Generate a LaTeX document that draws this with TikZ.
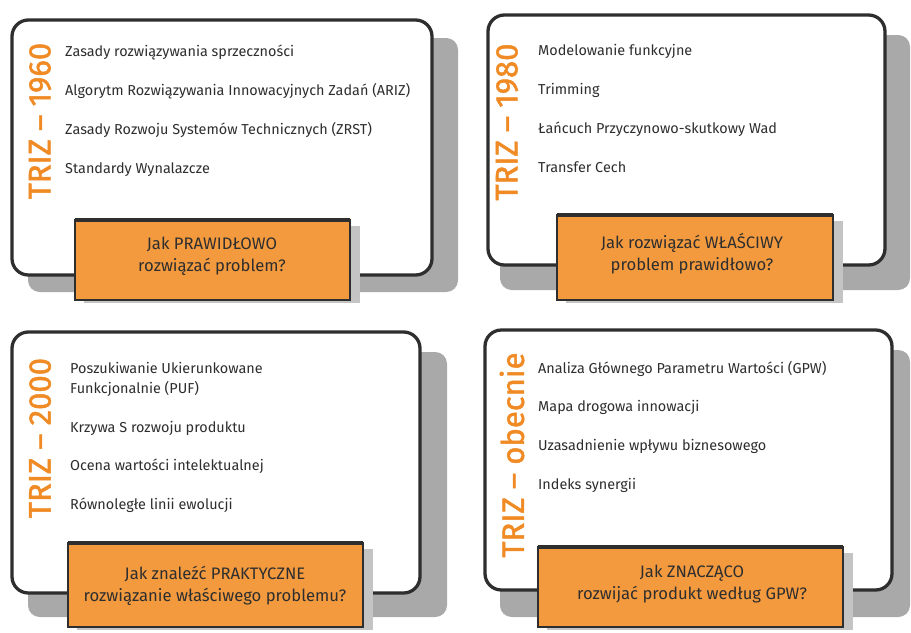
\documentclass[tikz,border=0pt]{standalone}
\usepackage{fontspec}
\setmainfont{Fira Sans}
\newfontfamily\erafont[FakeBold=1.6]{Fira Sans}
\definecolor{trizorange}{HTML}{F39A3F}
\definecolor{eraorange}{HTML}{F08A24}
\definecolor{inkgray}{HTML}{2E2E2E}
\definecolor{shadowgray}{HTML}{A9A9A9}
\definecolor{shadowlight}{HTML}{C4C4C4}

\tikzset{
  card/.style={draw=inkgray, line width=2.8pt, fill=white, rounded corners=14pt},
  cardshadow/.style={fill=shadowgray, rounded corners=10pt},
  era/.style={rotate=90, text=eraorange, font=\erafont\fontsize{26.5}{30}\selectfont},
  item/.style={anchor=base west, text=inkgray, inner sep=0pt, font=\fontsize{12.3}{14}\selectfont},
  question/.style={draw=inkgray, line width=1.3pt, fill=trizorange},
  qtop/.style={draw=inkgray, line width=2.6pt},
  qtext/.style={align=center, text=inkgray, font=\fontsize{14.2}{18.5}\selectfont}
}

\begin{document}
\begin{tikzpicture}[x=0.03cm, y=-0.03cm]
  \useasboundingbox (0,0) rectangle (911,632);

  % shadows
  \fill[cardshadow] (28,38) rectangle (458,292);
  \fill[cardshadow] (500,35) rectangle (910,290);
  \fill[cardshadow] (28,352) rectangle (447,617);
  \fill[cardshadow] (500,350) rectangle (910,617);

  % TRIZ 1960
  \draw[card] (12,20) rectangle (432,275);
  \node[era] (t1) at (40,121) {TRIZ – 1960};
  \node[item] (i11) at (65,56) {Zasady rozwiązywania sprzeczności};
  \node[item] (i12) at (65,95) {Algorytm Rozwiązywania Innowacyjnych Zadań (ARIZ)};
  \node[item] (i13) at (65,134) {Zasady Rozwoju Systemów Technicznych (ZRST)};
  \node[item] (i14) at (65,173) {Standardy Wynalazcze};
  \fill[shadowlight] (84,226) rectangle (360,303);
  \draw[question] (75,220) rectangle (350,300);
  \draw[qtop] (75,220) -- (350,220);
  \node[qtext] (q1) at (212,256) {Jak PRAWIDŁOWO\\rozwiązać problem?};

  % TRIZ 1980
  \draw[card] (488,15) rectangle (885,265);
  \node[era] (t2) at (507,122) {TRIZ – 1980};
  \node[item] (i21) at (538,55) {Modelowanie funkcyjne};
  \node[item] (i22) at (538,94) {Trimming};
  \node[item] (i23) at (538,133) {Łańcuch Przyczynowo-skutkowy Wad};
  \node[item] (i24) at (538,172) {Transfer Cech};
  \fill[shadowlight] (566,221) rectangle (843,303);
  \draw[question] (557,215) rectangle (833,300);
  \draw[qtop] (557,215) -- (833,215);
  \node[qtext] (q2) at (692,254) {Jak rozwiązać WŁAŚCIWY\\problem prawidłowo?};

  % TRIZ 2000
  \draw[card] (12,332) rectangle (420,593);
  \node[era] (t3) at (40,438) {TRIZ – 2000};
  \node[item] (i31) at (70,373) {Poszukiwanie Ukierunkowane};
  \node[item] (i32) at (70,393) {Funkcjonalnie (PUF)};
  \node[item] (i33) at (70,432) {Krzywa S rozwoju produktu};
  \node[item] (i34) at (70,470) {Ocena wartości intelektualnej};
  \node[item] (i35) at (70,509) {Równoległe linii ewolucji};
  \fill[shadowlight] (77,549) rectangle (373,630);
  \draw[question] (68,543) rectangle (363,627);
  \draw[qtop] (68,543) -- (363,543);
  \node[qtext] (q3) at (215,586) {Jak znaleźć PRAKTYCZNE\\rozwiązanie właściwego problemu?};

  % TRIZ obecnie
  \draw[card] (485,330) rectangle (892,590);
  \node[era] (t4) at (512,455) {TRIZ – obecnie};
  \node[item] (i41) at (538,373) {Analiza Głównego Parametru Wartości (GPW)};
  \node[item] (i42) at (538,411) {Mapa drogowa innowacji};
  \node[item] (i43) at (538,450) {Uzasadnienie wpływu biznesowego};
  \node[item] (i44) at (538,489) {Indeks synergii};
  \fill[shadowlight] (547,553) rectangle (853,630);
  \draw[question] (538,547) rectangle (843,627);
  \draw[qtop] (538,547) -- (843,547);
  \node[qtext] (q4) at (692,584) {Jak ZNACZĄCO\\rozwijać produkt według GPW?};
\end{tikzpicture}
\end{document}
